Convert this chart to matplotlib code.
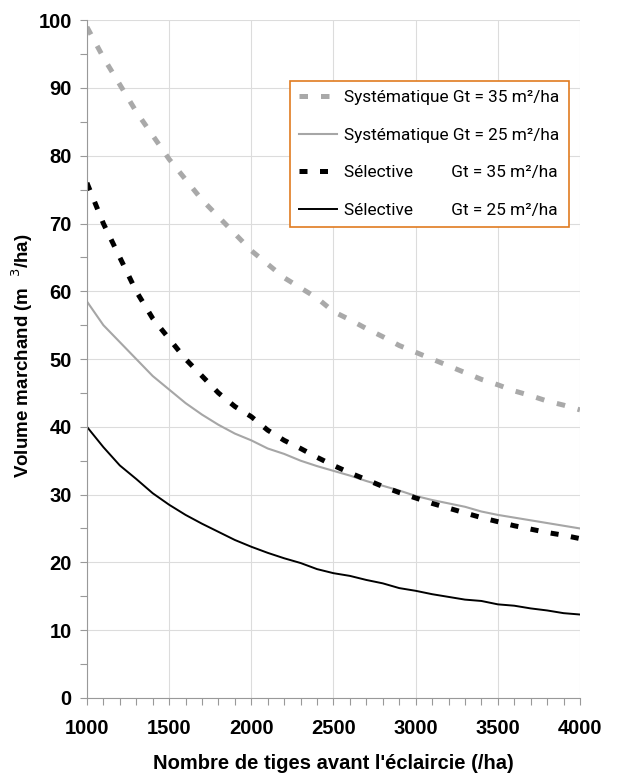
import numpy as np
import matplotlib.pyplot as plt
from matplotlib.ticker import MultipleLocator
from matplotlib import font_manager

tiges = np.arange(1000, 4001, 100)

syst_35 = [99, 94.5, 90.5, 86.5, 83, 79.5, 76.5, 73.5, 71, 68.5, 66, 64, 62, 60.5, 59, 57,
           55.8, 54.5, 53.3, 52, 51, 50, 49, 48, 47, 46.2, 45.3, 44.6, 43.8, 43.2, 42.5]
syst_25 = [58.5, 55, 52.5, 50, 47.5, 45.5, 43.5, 41.8, 40.3, 39, 38, 36.8, 36, 35, 34.2, 33.5,
           32.8, 32, 31.3, 30.6, 29.8, 29.2, 28.7, 28.2, 27.5, 27, 26.6, 26.2, 25.8, 25.4, 25]
sel_35 = [76, 70, 65, 60, 56, 53, 50, 47.5, 45, 43, 41.5, 39.5, 38, 36.8, 35.5, 34.3,
          33.2, 32.2, 31.2, 30.3, 29.5, 28.7, 28, 27.3, 26.6, 26, 25.4, 24.9, 24.4, 24, 23.5]
sel_25 = [40, 37, 34.3, 32.3, 30.2, 28.5, 27, 25.7, 24.5, 23.3, 22.3, 21.4, 20.6, 19.9, 19, 18.4,
          18, 17.4, 16.9, 16.2, 15.8, 15.3, 14.9, 14.5, 14.3, 13.8, 13.6, 13.2, 12.9, 12.5, 12.3]

labels = ["Systématique Gt = 35 m²/ha",
          "Systématique Gt = 25 m²/ha",
          "Sélective         Gt = 35 m²/ha",
          "Sélective         Gt = 25 m²/ha"]

plt.rcParams['font.family'] = ['Liberation Sans', 'DejaVu Sans']

# condensed font for the legend if there is one
names = {f.name for f in font_manager.fontManager.ttflist}
if 'Liberation Sans Narrow' in names:
    leg_font = {'family': ['Liberation Sans Narrow', 'DejaVu Sans'], 'size': 14}
else:
    leg_font = {'family': ['Roboto', 'DejaVu Sans'], 'size': 12.4}

fig = plt.figure(figsize=(6.21, 7.78), dpi=100)
ax = fig.add_axes([0.140, 0.103, 0.794, 0.871])

ax.plot(tiges, syst_35, color='#a9a9a9', lw=3.6, dashes=(1.7, 2.6), label=labels[0])
ax.plot(tiges, syst_25, color='#a6a6a6', lw=1.5, label=labels[1])
ax.plot(tiges, sel_35, color='black', lw=3.6, dashes=(1.6, 2.5), label=labels[2])
ax.plot(tiges, sel_25, color='black', lw=1.4, label=labels[3])

ax.set_xlim(1000, 4000)
ax.set_ylim(0, 100)
ax.xaxis.set_major_locator(MultipleLocator(500))
ax.xaxis.set_minor_locator(MultipleLocator(100))
ax.yaxis.set_major_locator(MultipleLocator(10))
ax.yaxis.set_minor_locator(MultipleLocator(5))
ax.grid(True, which='major', color='#dcdcdc', lw=0.8)
ax.set_axisbelow(True)

for s in ['top', 'right']:
    ax.spines[s].set_visible(False)
for s in ['left', 'bottom']:
    ax.spines[s].set_color('#999999')

ax.tick_params(which='both', direction='out', color='#999999', width=0.8, length=5)
ax.tick_params(axis='x', which='major', labelsize=14.5, pad=10)
ax.tick_params(axis='y', which='major', labelsize=14.5, pad=6)
for t in ax.get_xticklabels() + ax.get_yticklabels():
    t.set_fontweight('bold')

ax.set_xlabel("Nombre de tiges avant l'éclaircie (/ha)", fontsize=14.5,
              fontweight='bold', labelpad=12)
ax.set_ylabel(r"Volume marchand (m  $^{3}$/ha)", fontsize=13.5,
              fontweight='bold', labelpad=2)
ax.yaxis.set_label_coords(-0.105, 0.505)

leg = ax.legend(loc='upper left', bbox_to_anchor=(0.467, 0.896),
                bbox_transform=fig.transFigure, borderaxespad=0,
                frameon=True, fancybox=False, handlelength=2.2, handletextpad=0.4,
                labelspacing=1.3, borderpad=0.55, prop=leg_font)
leg.get_frame().set_edgecolor('#e07b20')
leg.get_frame().set_linewidth(1.2)
leg.get_frame().set_alpha(1)

fig.savefig('out.png', dpi=100)
